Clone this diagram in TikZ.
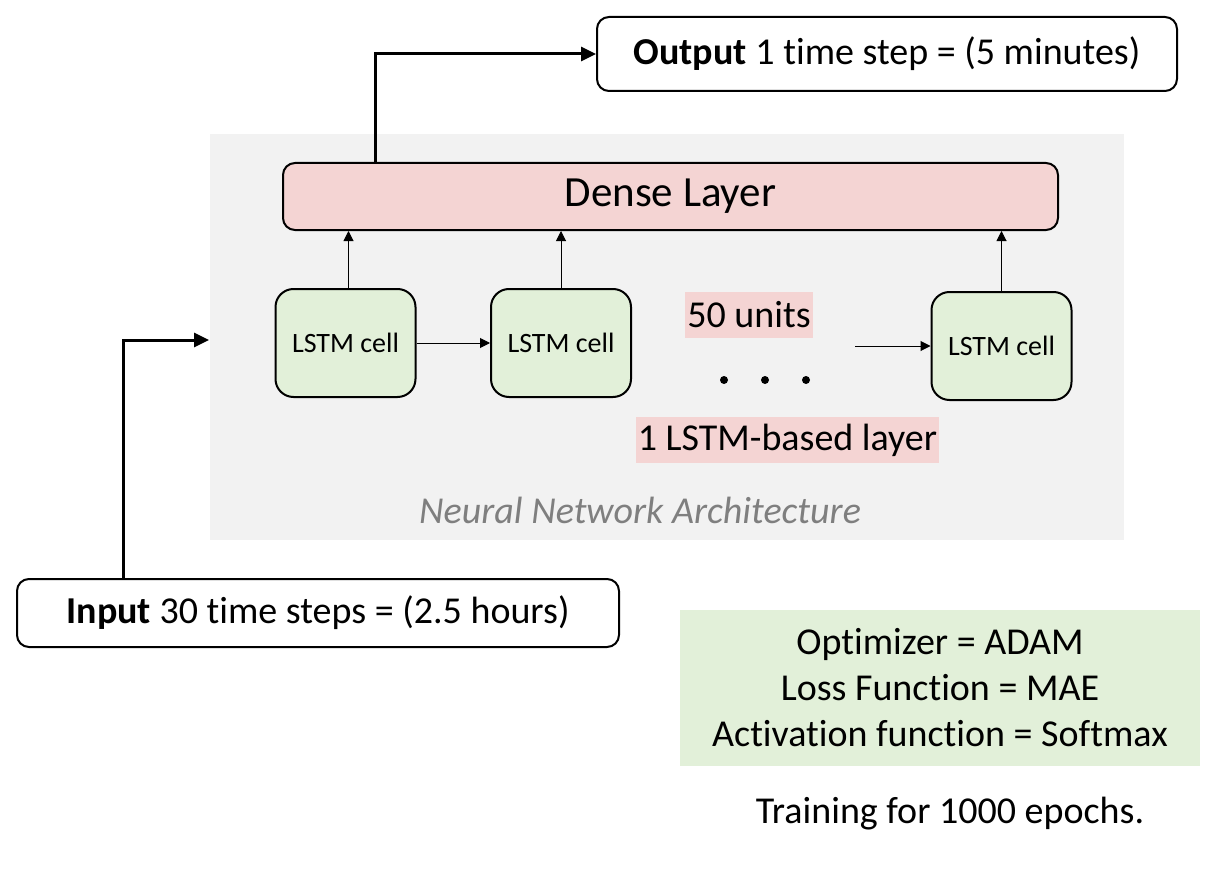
\documentclass[tikz,border=0pt]{standalone}
\usepackage{fontspec}
\setmainfont{Carlito}[Ligatures=NoCommon]
\usetikzlibrary{positioning,arrows.meta,calc}
\definecolor{nnGray}{RGB}{242,242,242}
\definecolor{nnPink}{RGB}{244,212,211}
\definecolor{nnGreen}{RGB}{226,240,217}
\definecolor{nnText}{RGB}{127,127,127}

\begin{document}
\begin{tikzpicture}[x=0.5pt, y=-0.5pt,
    txt/.style={font=\fontsize{19pt}{23pt}\selectfont},
    iobox/.style={draw, line width=1pt, rounded corners=6pt, fill=white, txt,
      minimum height=36pt},
    cellbox/.style={draw, line width=1pt, rounded corners=9pt, fill=nnGreen,
      minimum width=70pt, minimum height=54pt, font=\fontsize{14pt}{17pt}\selectfont},
    tag/.style={fill=nnPink, txt, inner sep=1pt, minimum height=23pt},
    thin/.style={line width=0.5pt, -{Triangle[length=5pt,width=5pt]}},
    bold/.style={line width=1.5pt, -{Triangle[length=7.5pt,width=7pt]}}]
  \useasboundingbox (0,0) rectangle (1232,888);

  % Architecture background
  \fill[nnGray] (210,134) rectangle (1124,540);
  \node[txt, text=nnText] (arch) at (640,510) {\itshape Neural Network Architecture};

  % Dense layer
  \node[draw, line width=1pt, rounded corners=6pt, fill=nnPink, minimum width=387.5pt,
    minimum height=33.5pt, font=\fontsize{21.5pt}{25pt}\selectfont] (dense) at (670.5,196.5) {Dense Layer};

  % LSTM cells
  \node[cellbox] (c1) at (345.5,343) {LSTM cell};
  \node[cellbox] (c2) at (561,343) {LSTM cell};
  \node[cellbox] (c3) at (1001.5,346) {LSTM cell};
  \draw[thin] (c1) -- (c2);
  \coordinate (c3in) at (855,346);
  \draw[thin] (c3in) -- (c3in -| c3.west);
  \draw[thin] ([xshift=1.5pt]c1.north) -- ([xshift=1.5pt]c1.north |- dense.south);
  \draw[thin] (c2.north) -- (c2.north |- dense.south);
  \draw[thin] (c3.north) -- (c3.north |- dense.south);

  % Layer labels
  \node[tag, minimum width=62pt] (units) at (749,314.5) {50 units};
  \foreach \x in {724,765,806}
    \fill (\x,380) circle (2pt);
  \node[tag, minimum width=150.5pt] (layer) at (787.5,440) {1 LSTM-based layer};

  % Input and output
  \node[iobox, minimum width=301pt, minimum height=34pt] (in) at (318,613) {\textbf{Input} 30 time steps = (2.5 hours)};
  \node[iobox, minimum width=290pt, minimum height=37pt] (out) at (887,54) {\textbf{Output} 1 time step = (5 minutes)};
  \coordinate (inend) at (209,340);
  \draw[bold] (123,0 |- in.north) -- (123,340) -- (inend);
  \draw[bold] (375,0 |- dense.north) |- (out.west);

  % Training settings
  \node[fill=nnGreen, txt, align=center, minimum width=260pt, minimum height=78pt] (param) at (940,688)
    {Optimizer = ADAM\\Loss Function = MAE\\Activation function = Softmax};
  \node[txt] (train) at (950,814) {Training for 1000 epochs.};
\end{tikzpicture}
\end{document}
